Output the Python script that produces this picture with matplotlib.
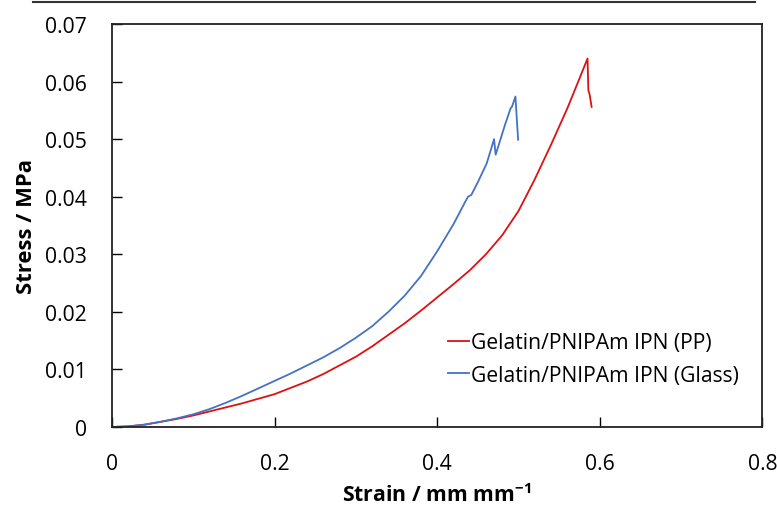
import matplotlib
matplotlib.use("Agg")
import matplotlib.pyplot as plt
from matplotlib.lines import Line2D

pp_strain = [0, 0.02, 0.04, 0.06, 0.08, 0.10, 0.12, 0.14, 0.16, 0.18, 0.20, 0.22, 0.24,
             0.26, 0.28, 0.30, 0.32, 0.34, 0.36, 0.38, 0.40, 0.42, 0.44, 0.46, 0.48,
             0.50, 0.52, 0.54, 0.56, 0.575, 0.585, 0.586, 0.5875, 0.590]
pp_stress = [0, 0.0001, 0.0004, 0.0009, 0.0014, 0.0020, 0.0027, 0.0034, 0.0041, 0.0049, 0.0057,
             0.0068, 0.0079, 0.0092, 0.0107, 0.0122, 0.0140, 0.0160, 0.0180, 0.0202, 0.0225,
             0.0248, 0.0272, 0.0300, 0.0333, 0.0375, 0.0430, 0.0490, 0.0553, 0.0605, 0.0640,
             0.0585, 0.0578, 0.0556]

glass_strain = [0, 0.02, 0.04, 0.06, 0.08, 0.10, 0.12, 0.14, 0.16, 0.18, 0.20, 0.22, 0.24,
                0.26, 0.28, 0.30, 0.32, 0.34, 0.36, 0.38, 0.40, 0.42, 0.436, 0.438, 0.442,
                0.45, 0.461, 0.470, 0.472, 0.478, 0.4835, 0.4905, 0.492, 0.4963, 0.4996]
glass_stress = [0, 0.0001, 0.0004, 0.0009, 0.0015, 0.0022, 0.0031, 0.0042, 0.0054, 0.0067, 0.0080,
                0.0093, 0.0107, 0.0121, 0.0137, 0.0155, 0.0175, 0.0200, 0.0228, 0.0262, 0.0305,
                0.0352, 0.0395, 0.0400, 0.0403, 0.0425, 0.0458, 0.0500, 0.0473, 0.0500, 0.0525,
                0.0554, 0.0556, 0.0574, 0.0499]

labels = ["Gelatin/PNIPAm IPN (PP)", "Gelatin/PNIPAm IPN (Glass)"]
x_ticks = [0, 0.2, 0.4, 0.6, 0.8]
y_ticks = [0, 0.01, 0.02, 0.03, 0.04, 0.05, 0.06, 0.07]

plt.rcParams["font.family"] = ["Open Sans", "DejaVu Sans"]
plt.rcParams["mathtext.fontset"] = "custom"
plt.rcParams["mathtext.rm"] = "Open Sans"
plt.rcParams["mathtext.bf"] = "Open Sans:bold"

fig = plt.figure(figsize=(7.77, 5.06), dpi=100)
ax = fig.add_axes([0.1441, 0.1542, 0.8370, 0.7964])

ax.plot(pp_strain, pp_stress, color="#dd1111", lw=1.3, label=labels[0])
ax.plot(glass_strain, glass_stress, color="#4472c4", lw=1.3, label=labels[1])

ax.set_xlim(0, 0.8)
ax.set_ylim(0, 0.07)
ax.set_xticks(x_ticks)
ax.set_yticks(y_ticks)
ax.set_xticklabels(["0", "0.2", "0.4", "0.6", "0.8"])
ax.set_yticklabels(["0", "0.01", "0.02", "0.03", "0.04", "0.05", "0.06", "0.07"])
ax.tick_params(direction="in", length=7, width=1, labelsize=15.2, colors="black")
ax.tick_params(axis="y", pad=18)
ax.tick_params(axis="x", pad=19)
for s in ax.spines.values():
    s.set_linewidth(1.3)
    s.set_color("#222222")

ax.set_xlabel(r"Strain / mm mm$^{\mathbf{-1}}$", fontsize=15.3, fontweight="bold", labelpad=6)
ax.set_ylabel("Stress / MPa", fontsize=15.8, fontweight="bold", labelpad=6)

ax.legend(loc="upper left", bbox_to_anchor=(0.516, 0.235), frameon=False, fontsize=15.2,
          handlelength=1.0, handletextpad=0.1, labelspacing=0.55, borderpad=0, borderaxespad=0)

# thin rule at the very top of the picture
fig.add_artist(Line2D([33 / 777, 755 / 777], [1 - 3 / 506, 1 - 3 / 506], color="#333333", lw=1.5))

fig.savefig("out.png", dpi=100)
